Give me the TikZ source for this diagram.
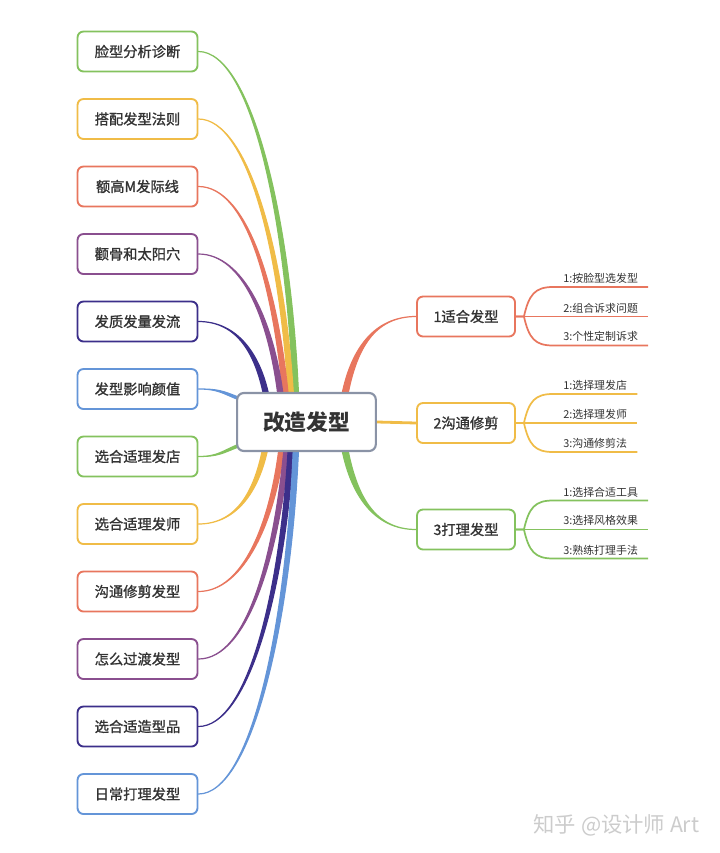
\documentclass[tikz,border=0pt]{standalone}
\usepackage{fontspec}
\setmainfont{Noto Sans CJK SC}
\newfontfamily\midcjk{Noto Sans CJK SC}[FakeBold=1.2]
\usetikzlibrary{calc, positioning, backgrounds}
\definecolor{mapGreen}{RGB}{132, 194, 94}
\definecolor{mapYellow}{RGB}{240, 188, 71}
\definecolor{mapRed}{RGB}{232, 118, 94}
\definecolor{mapPurple}{RGB}{138, 79, 143}
\definecolor{mapNavy}{RGB}{60, 47, 138}
\definecolor{mapBlue}{RGB}{100, 149, 216}
\definecolor{frameGray}{RGB}{138, 147, 166}
\definecolor{inkGray}{RGB}{51, 51, 51}

\begin{document}
\begin{tikzpicture}[
        x=0.75pt, y=-0.75pt,
        leafBox/.style={fill=white, line width=1.4pt, rounded corners=4.5pt, minimum width=90pt, minimum height=30pt, inner sep=0pt, text=inkGray, font=\midcjk\fontsize{10.7}{12}\selectfont},
        topicBox/.style={leafBox, minimum width=73.5pt},
        rootBox/.style={fill=white, draw=frameGray, line width=1.6pt, rounded corners=5pt, minimum width=104pt, minimum height=43.5pt, inner sep=0pt, text=inkGray, font=\bfseries\fontsize{16.3}{18}\selectfont},
        subText/.style={anchor=south west, inner xsep=7.5pt, inner ysep=2.5pt, text=inkGray, font=\fontsize{8.2}{9}\selectfont},
        twig/.style={line width=0.9pt, line join=round},
        subLine/.style={line width=1.3pt}
    ]
        \useasboundingbox (0,0) rectangle (720,853);

        \node[rootBox] (root) at (306.5,422) {改造发型};

        % left side
        \node[leafBox, draw=mapGreen] (face) at (137.5,51.5) {脸型分析诊断};
        \node[leafBox, draw=mapYellow] (match) at (137.5,119) {搭配发型法则};
        \node[leafBox, draw=mapRed] (hairline) at (137.5,186.5) {额高M发际线};
        \node[leafBox, draw=mapPurple] (cheek) at (137.5,254) {颧骨和太阳穴};
        \node[leafBox, draw=mapNavy] (texture) at (137.5,321.5) {发质发量发流};
        \node[leafBox, draw=mapBlue] (looks) at (137.5,389) {发型影响颜值};
        \node[leafBox, draw=mapGreen] (salon) at (137.5,456.5) {选合适理发店};
        \node[leafBox, draw=mapYellow] (stylist) at (137.5,524) {选合适理发师};
        \node[leafBox, draw=mapRed] (trim) at (137.5,591.5) {沟通修剪发型};
        \node[leafBox, draw=mapPurple] (transit) at (137.5,659) {怎么过渡发型};
        \node[leafBox, draw=mapNavy] (product) at (137.5,726.5) {选合适造型品};
        \node[leafBox, draw=mapBlue] (daily) at (137.5,794) {日常打理发型};

        % right side
        \node[topicBox, draw=mapRed] (fit) at (466,316.5) {1适合发型};
        \node[topicBox, draw=mapYellow] (talk) at (466,423) {2沟通修剪};
        \node[topicBox, draw=mapGreen] (care) at (466,529.5) {3打理发型};

        \node[subText] (fit1) at (553,287) {1:按脸型选发型};
        \node[subText] (fit2) at (553,316.5) {2:组合诉求问题};
        \node[subText] (fit3) at (553,345.5) {3:个性定制诉求};
        \node[subText] (talk1) at (553,394) {1:选择理发店};
        \node[subText] (talk2) at (553,423) {2:选择理发师};
        \node[subText] (talk3) at (553,452) {3:沟通修剪法};
        \node[subText] (care1) at (553,500.5) {1:选择合适工具};
        \node[subText] (care2) at (553,529.5) {3:选择风格效果};
        \node[subText] (care3) at (553,558.5) {3:熟练打理手法};

        \node[anchor=east, text=gray!40, font=\fontsize{16}{18}\selectfont] (mark) at (704,825) {知乎 @设计师 Art};

        \begin{scope}[on background layer]
            % tapered branches of the root
            \filldraw[twig, mapGreen] ($(root.north west)+(57.4,8)$) .. controls +(-7,-181) and +(53,0) .. (face.east) .. controls +(53,0) and +(-7,-181) .. ($(root.north west)+(62.6,8)$) -- cycle;
            \filldraw[twig, mapYellow] ($(root.north west)+(52.4,8)$) .. controls +(-8,-145) and +(50,0) .. (match.east) .. controls +(50,0) and +(-8,-145) .. ($(root.north west)+(57.6,8)$) -- cycle;
            \filldraw[twig, mapRed] ($(root.north west)+(47.4,8)$) .. controls +(-10,-108) and +(50,0) .. (hairline.east) .. controls +(50,0) and +(-10,-108) .. ($(root.north west)+(52.6,8)$) -- cycle;
            \filldraw[twig, mapPurple] ($(root.north west)+(42.4,8)$) .. controls +(-9,-78) and +(45,0) .. (cheek.east) .. controls +(45,0) and +(-9,-78) .. ($(root.north west)+(47.6,8)$) -- cycle;
            \filldraw[twig, mapNavy] ($(root.north west)+(28.4,8)$) .. controls +(-8,-44) and +(40,0) .. (texture.east) .. controls +(40,0) and +(-8,-44) .. ($(root.north west)+(33.6,8)$) -- cycle;
            \filldraw[twig, mapBlue] ($(root.west)+(4,-24.3)$) .. controls +(-18,-7) and +(20,0) .. (looks.east) .. controls +(20,0) and +(-18,-7) .. ($(root.west)+(4,-21.7)$) -- cycle;
            \filldraw[twig, mapGreen] ($(root.west)+(4,21.7)$) .. controls +(-18,7) and +(20,0) .. (salon.east) .. controls +(20,0) and +(-18,7) .. ($(root.west)+(4,24.3)$) -- cycle;
            \filldraw[twig, mapYellow] ($(root.south west)+(27.4,-8)$) .. controls +(-8,44) and +(40,0) .. (stylist.east) .. controls +(40,0) and +(-8,44) .. ($(root.south west)+(32.6,-8)$) -- cycle;
            \filldraw[twig, mapRed] ($(root.south west)+(43.4,-8)$) .. controls +(-9,78) and +(45,0) .. (trim.east) .. controls +(45,0) and +(-9,78) .. ($(root.south west)+(48.6,-8)$) -- cycle;
            \filldraw[twig, mapPurple] ($(root.south west)+(48.4,-8)$) .. controls +(-10,108) and +(50,0) .. (transit.east) .. controls +(50,0) and +(-10,108) .. ($(root.south west)+(53.6,-8)$) -- cycle;
            \filldraw[twig, mapNavy] ($(root.south west)+(52.4,-8)$) .. controls +(-8,145) and +(50,0) .. (product.east) .. controls +(50,0) and +(-8,145) .. ($(root.south west)+(57.6,-8)$) -- cycle;
            \filldraw[twig, mapBlue] ($(root.south west)+(57.4,-8)$) .. controls +(-7,180) and +(53,0) .. (daily.east) .. controls +(53,0) and +(-7,180) .. ($(root.south west)+(62.6,-8)$) -- cycle;

            \filldraw[twig, mapRed] ($(root.north east)+(-36,8)$) .. controls +(9,-51) and +(-42,0) .. (fit.west) .. controls +(-42,0) and +(9,-51) .. ($(root.north east)+(-30,8)$) -- cycle;
            \draw[mapYellow, line width=2.1pt] (root.east) -- (talk.west);
            \filldraw[twig, mapGreen] ($(root.south east)+(-36,-8)$) .. controls +(9,51) and +(-42,0) .. (care.west) .. controls +(-42,0) and +(9,51) .. ($(root.south east)+(-30,-8)$) -- cycle;
        \end{scope}

        % sub branches
        \draw[subLine, mapRed] (fit.east) -- ++(8,0) .. controls +(5,-22) and +(-18,0) .. (fit1.south west) -- (fit1.south east);
        \draw[subLine, mapRed] (fit.east) -- (fit2.south west) -- (fit2.south east);
        \draw[subLine, mapRed] (fit.east) -- ++(8,0) .. controls +(5,22) and +(-18,0) .. (fit3.south west) -- (fit3.south east);
        \draw[subLine, mapYellow] (talk.east) -- ++(8,0) .. controls +(5,-22) and +(-18,0) .. (talk1.south west) -- (talk1.south east);
        \draw[subLine, mapYellow] (talk.east) -- (talk2.south west) -- (talk2.south east);
        \draw[subLine, mapYellow] (talk.east) -- ++(8,0) .. controls +(5,22) and +(-18,0) .. (talk3.south west) -- (talk3.south east);
        \draw[subLine, mapGreen] (care.east) -- ++(8,0) .. controls +(5,-22) and +(-18,0) .. (care1.south west) -- (care1.south east);
        \draw[subLine, mapGreen] (care.east) -- (care2.south west) -- (care2.south east);
        \draw[subLine, mapGreen] (care.east) -- ++(8,0) .. controls +(5,22) and +(-18,0) .. (care3.south west) -- (care3.south east);
    \end{tikzpicture}
\end{document}
